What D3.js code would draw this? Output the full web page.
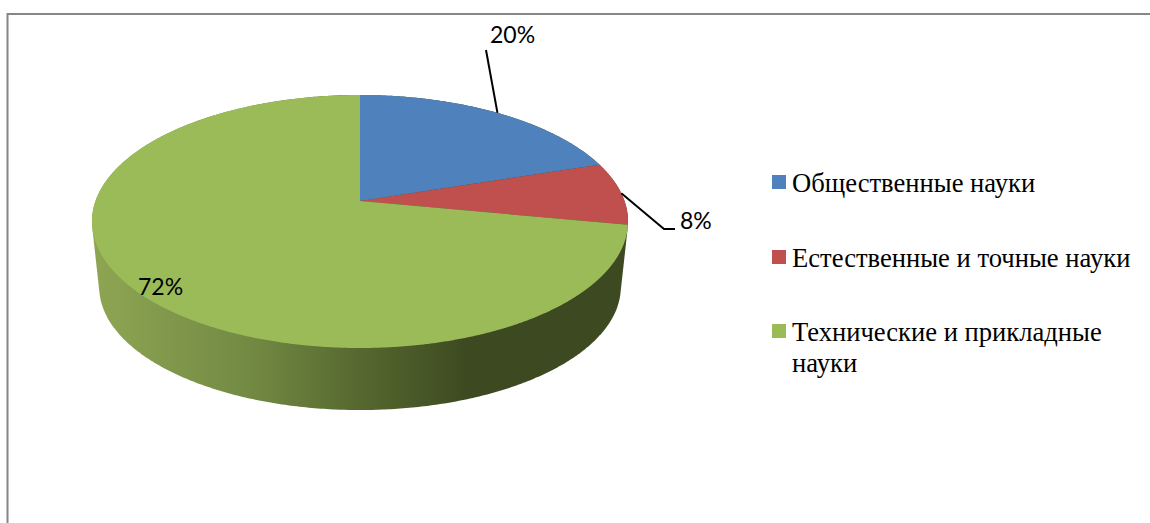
<!DOCTYPE html>
<html>
<head>
<meta charset="utf-8">
<script src="https://cdn.jsdelivr.net/npm/d3@7"></script>
<style>
    body { margin: 0; background: #fff; }
    svg { display: block; }
</style>
</head>
<body>
<div id="chart"></div>
<script>
var categories = ['Общественные науки', 'Естественные и точные науки', 'Технические и прикладные науки'];
var values = [20, 8, 72];
var labels = ['20%', '8%', '72%'];
var colors = ['#4f81bd', '#c0504d', '#9bbb59'];
var legendLines = [['Общественные науки'], ['Естественные и точные науки'], ['Технические и прикладные', 'науки']];

const width = 1150, height = 523;

var svg = d3.select('#chart').append('svg')
    .attr('width', width)
    .attr('height', height);

// frame is cut off by the screenshot on the right and at the bottom
svg.append('path')
    .attr('d', `M7.5,${height} V14 H${width}`)
    .attr('fill', 'none')
    .attr('stroke', '#868686')
    .attr('stroke-width', 2);

var wallGrad = svg.append('defs').append('linearGradient')
    .attr('id', 'wall')
    .attr('gradientUnits', 'userSpaceOnUse')
    .attr('x1', 92).attr('x2', 628).attr('y1', 0).attr('y2', 0);
[[0, '#8ea653'], [0.3, '#728943'], [0.5, '#56682f'], [0.7, '#3d4a21'], [1, '#3d4a21']].forEach(s => {
    wallGrad.append('stop').attr('offset', s[0]).attr('stop-color', s[1]);
});

// circle seen in perspective, center of the pie is not the center of the ellipse
const k = 0.162, R = 264.5, B = 123.2, cx = 360, cy = 201;
function project(a, scale, drop) {
    var u = Math.sin(a), v = -Math.cos(a), w = 1 - k * v;
    return [cx + scale * R * u / w, cy + drop + scale * B * v / w];
}

var pie = d3.pie().sort(null).startAngle(0).endAngle(2 * Math.PI);
var arcs = pie(values);

var line = d3.line();

// side wall: hull of the top and bottom rims
var rim = d3.range(0, 2 * Math.PI, 0.01);
var hull = d3.polygonHull(rim.map(a => project(a, 1, 0)).concat(rim.map(a => project(a, 0.973, 66))));
svg.append('path')
    .attr('d', line(hull) + 'Z')
    .attr('fill', 'url(#wall)');

function slice(d) {
    var pts = [[cx, cy]];
    d3.range(d.startAngle, d.endAngle, 0.005).forEach(a => pts.push(project(a, 1, 0)));
    pts.push(project(d.endAngle, 1, 0));
    return line(pts) + 'Z';
}

svg.selectAll('path.slice')
    .data(arcs)
    .join('path')
    .attr('class', 'slice')
    .attr('d', slice)
    .attr('fill', (d, i) => colors[i]);

// leaders for the two small slices
var mid = d => (d.startAngle + d.endAngle) / 2;
var p0 = project(mid(arcs[0]), 1, 0);
var p1 = project(mid(arcs[1]), 1, 0);
svg.append('path')
    .attr('d', line([p0, [486, 50]]))
    .attr('fill', 'none').attr('stroke', '#000').attr('stroke-width', 2);
svg.append('path')
    .attr('d', line([p1, [664, 229], [675, 229]]))
    .attr('fill', 'none').attr('stroke', '#000').attr('stroke-width', 2);

var labelPos = [[490, 43], [680, 229], [138, 295]];
svg.selectAll('text.label')
    .data(labels)
    .join('text')
    .attr('class', 'label')
    .attr('x', (d, i) => labelPos[i][0])
    .attr('y', (d, i) => labelPos[i][1])
    .attr('font-family', 'Lato')
    .attr('font-size', 23)
    .attr('fill', '#000')
    .text(d => d);

var legendY = [192, 267, 341];
var legend = svg.selectAll('g.legend')
    .data(categories)
    .join('g')
    .attr('class', 'legend')
    .attr('transform', (d, i) => `translate(772, ${legendY[i]})`);

legend.append('rect')
    .attr('y', -17)
    .attr('width', 14)
    .attr('height', 14)
    .attr('fill', (d, i) => colors[i]);

legend.append('text')
    .attr('x', 20)
    .attr('font-family', 'Liberation Serif')
    .attr('font-size', 26.6)
    .attr('fill', '#000')
    .selectAll('tspan')
    .data((d, i) => legendLines[i])
    .join('tspan')
    .attr('x', 20)
    .attr('dy', (d, i) => i ? 31 : 0)
    .text(d => d);
</script>
</body>
</html>
